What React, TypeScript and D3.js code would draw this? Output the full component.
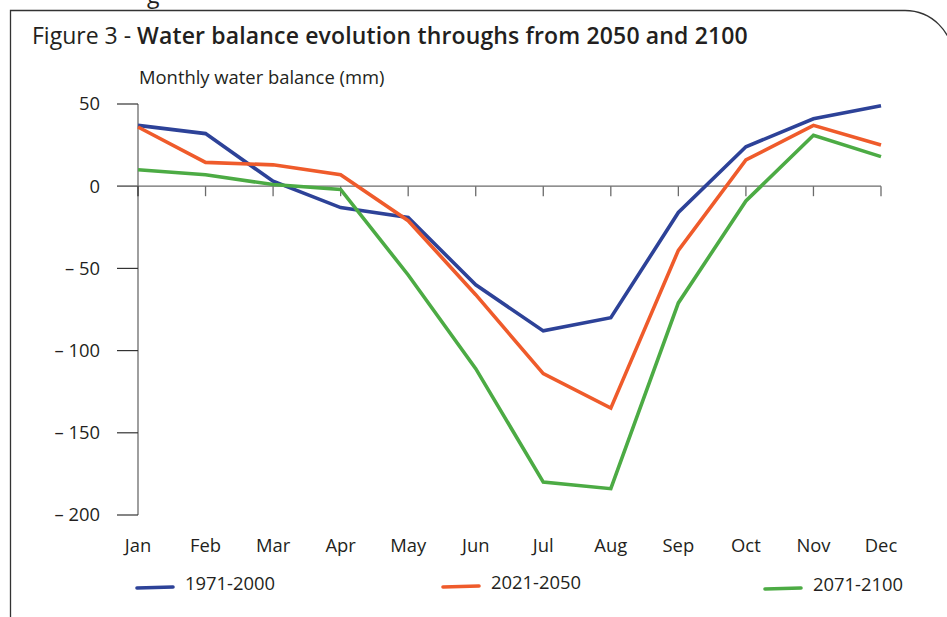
import React from 'react';
import * as d3 from 'd3';

const months = ['Jan', 'Feb', 'Mar', 'Apr', 'May', 'Jun', 'Jul', 'Aug', 'Sep', 'Oct', 'Nov', 'Dec'];
const yTicks = [50, 0, -50, -100, -150, -200];

const seriesNames = ['1971-2000', '2021-2050', '2071-2100'];
const base1971 = [37, 32, 3, -13, -19, -60, -88, -80, -16, 24, 41, 49];
const mid2021 = [36, 14.5, 13, 7, -21, -66, -114, -135, -39, 16, 37, 25];
const end2071 = [10, 7, 1, -2, -54, -111, -180, -184, -71, -9, 31, 18];
const seriesColors = ['#2d4298', '#ef5b2b', '#4cab44'];

const W = 947;
const H = 617;
const font = '"Open Sans", Roboto, sans-serif';
const axisColor = '#6b6b6b';
const textColor = '#231f20';

const fmtTick = (v: number) => (v < 0 ? `\u2013 ${Math.abs(v)}` : `${v}`);

const App: React.FC = () => {
  const x = d3.scalePoint<string>().domain(months).range([138, 881]);
  const y = d3.scaleLinear().domain([-200, 50]).range([515, 104]);
  const line = d3.line<number>()
    .x((_, i) => x(months[i]) as number)
    .y((d) => y(d));

  const allSeries = [base1971, mid2021, end2071];
  const legendX = [137, 443, 765];
  const legendY = [588, 587, 589];

  return (
    <svg width={W} height={H} viewBox={`0 0 ${W} ${H}`}
      style={{ position: 'absolute', left: 0, top: 0, background: '#fff' }}>
      {/* cut off heading above the frame */}
      <text x={147} y={3} fontFamily={font} fontSize={23} fill={textColor}>g</text>

      {/* frame with rounded top-right corner */}
      <path d={`M10.5,${H} L10.5,10.5 L905,10.5 A48,48 0 0 1 953,58`}
        fill="none" stroke="#333" strokeWidth={1.3} />

      <text x={32} y={44} fontFamily={font} fontSize={23} fill={textColor}>
        <tspan fontWeight={400}>Figure 3 - </tspan>
        <tspan fontWeight={600} letterSpacing={0.15}>Water balance evolution throughs from 2050 and 2100</tspan>
      </text>

      <text x={139} y={84} fontFamily={font} fontSize={18.4} fill={textColor}>Monthly water balance (mm)</text>

      {/* y axis */}
      <line x1={138} x2={138} y1={y(50)} y2={y(-200)} stroke={axisColor} strokeWidth={1.3} />
      {yTicks.map((t) => (
        <g key={t}>
          <line x1={117} x2={138} y1={y(t)} y2={y(t)} stroke={t === 0 ? axisColor : '#333'} strokeWidth={1.2} />
          <text x={100} y={y(t)} dy="0.35em" textAnchor="end" fontFamily={font} fontSize={18.4} fill={textColor}>
            {fmtTick(t)}
          </text>
        </g>
      ))}

      {/* x axis at zero */}
      <line x1={117} x2={881} y1={y(0)} y2={y(0)} stroke={axisColor} strokeWidth={1.3} />
      {months.map((m) => (
        <g key={m}>
          <line x1={x(m)} x2={x(m)} y1={y(0)} y2={y(0) + 10} stroke={m === 'Jan' ? '#333' : axisColor} strokeWidth={1.3} />
          <text x={x(m)} y={552} textAnchor="middle" fontFamily={font} fontSize={18.4} fill={textColor}>{m}</text>
        </g>
      ))}

      {/* series */}
      {allSeries.map((s, i) => (
        <path key={seriesNames[i]} d={line(s) || ''} fill="none" stroke={seriesColors[i]}
          strokeWidth={3.6} strokeLinejoin="miter" />
      ))}

      {/* legend */}
      {seriesNames.map((n, i) => (
        <g key={n}>
          <line x1={legendX[i]} x2={legendX[i] + 36} y1={legendY[i]} y2={legendY[i] - 1}
            stroke={seriesColors[i]} strokeWidth={3.6} strokeLinecap="round" />
          <text x={legendX[i] + 48} y={legendY[i] + 1} dy="0.05em" fontFamily={font} fontSize={18.4} fill={textColor}>{n}</text>
        </g>
      ))}
    </svg>
  );
};

export default App;
